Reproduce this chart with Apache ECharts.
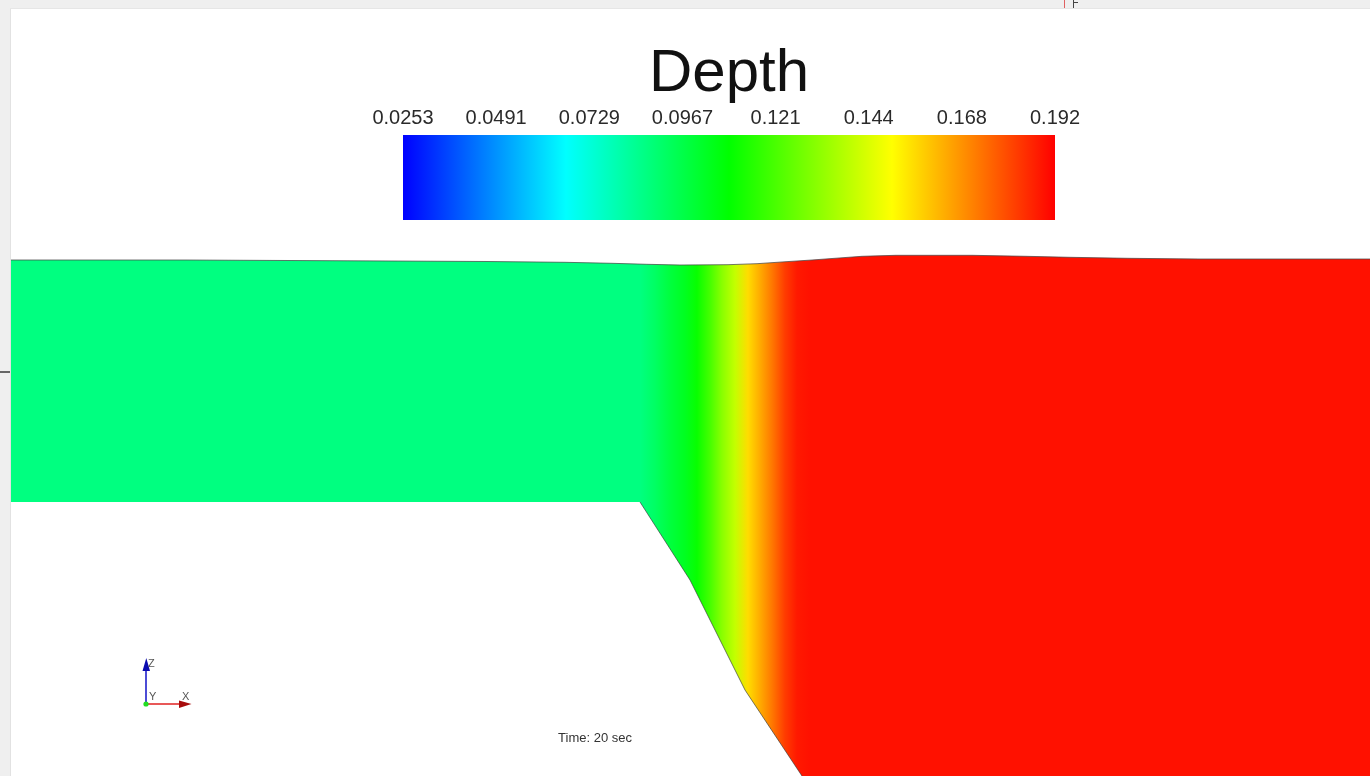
<!DOCTYPE html>
<html>
<head>
<meta charset="utf-8">
<title>Depth</title>
<script src="https://cdn.jsdelivr.net/npm/echarts@6/dist/echarts.min.js"></script>
<style>
  html, body { margin: 0; padding: 0; background: #ffffff; }
  #chart { width: 1370px; height: 776px; }
</style>
</head>
<body>
<div id="chart"></div>
<script>
// Colour legend: range, tick labels and rainbow ramp (blue → cyan → green → yellow → red)
const depthMin = 0.0253;
const depthMax = 0.192;
const depthTicks = ['0.0253', '0.0491', '0.0729', '0.0967', '0.121', '0.144', '0.168', '0.192'];
const rampColors = ['#0000ff', '#00ffff', '#00ff00', '#ffff00', '#ff0000'];

// Free surface elevation along the channel (x, z)
const surfaceX = [0.00, 1.76, 3.80, 4.77, 5.55, 6.02, 6.37, 6.70, 7.18, 7.47, 7.76, 8.02, 8.33, 8.52, 8.86, 9.62, 10.16, 10.60, 11.18, 11.90, 13.60];
const surfaceZ = [2.420, 2.420, 2.410, 2.405, 2.397, 2.387, 2.377, 2.370, 2.373, 2.383, 2.403, 2.420, 2.443, 2.457, 2.467, 2.467, 2.457, 2.447, 2.437, 2.430, 2.430];

// Channel bed: flat reach, then a drop
const bedX = [0.00, 6.30, 6.80, 7.35, 7.92, 8.50, 13.60];
const bedZ = [0.00, 0.00, -0.78, -1.88, -2.74, -3.60, -3.60];

// Flow depth sampled along the channel
const depthX = [0.00, 6.30, 6.45, 6.60, 6.75, 6.87, 7.00, 7.12, 7.25, 7.38, 7.50, 7.62, 7.75, 7.87, 8.00, 13.60];
const depthVal = [0.0878, 0.0878, 0.0925, 0.0985, 0.1035, 0.1100, 0.1200, 0.1310, 0.1405, 0.1560, 0.1640, 0.1724, 0.1822, 0.1879, 0.1892, 0.1892];

const FONT = '"Liberation Sans", Arial, sans-serif';

function hexToRgb(h) {
  return [parseInt(h.slice(1, 3), 16), parseInt(h.slice(3, 5), 16), parseInt(h.slice(5, 7), 16)];
}
const rampRgb = rampColors.map(hexToRgb);

// Map a depth value onto the rainbow ramp
function depthColor(d) {
  let t = (d - depthMin) / (depthMax - depthMin);
  t = Math.max(0, Math.min(1, t));
  const s = t * (rampRgb.length - 1);
  const i = Math.min(Math.floor(s), rampRgb.length - 2);
  const f = s - i;
  const a = rampRgb[i], b = rampRgb[i + 1];
  const c = a.map((v, k) => Math.round(v + (b[k] - v) * f));
  return 'rgb(' + c.join(',') + ')';
}

const chart = echarts.init(document.getElementById('chart'), null, { renderer: 'canvas' });

// Water body: polygon between surface and bed, coloured by depth along x
function renderDomain(params, api) {
  const pts = [];
  for (let i = 0; i < surfaceX.length; i++) pts.push(api.coord([surfaceX[i], surfaceZ[i]]));
  for (let i = bedX.length - 1; i >= 0; i--) pts.push(api.coord([bedX[i], bedZ[i]]));
  const x0 = api.coord([depthX[0], 0])[0];
  const x1 = api.coord([depthX[depthX.length - 1], 0])[0];
  const stops = depthX.map((x, i) => ({
    offset: (api.coord([x, 0])[0] - x0) / (x1 - x0),
    color: depthColor(depthVal[i])
  }));
  return {
    type: 'polygon',
    shape: { points: pts },
    style: {
      fill: { type: 'linear', x: x0, y: 0, x2: x1, y2: 0, colorStops: stops, global: true },
      stroke: null
    }
  };
}

// Colour bar spanning the first to the last tick
function renderColorBar(params, api) {
  const p0 = api.coord([0, 1]);
  const p1 = api.coord([depthTicks.length - 1, 0]);
  const stops = rampColors.map((c, i) => ({ offset: i / (rampColors.length - 1), color: c }));
  return {
    type: 'rect',
    shape: { x: p0[0], y: p0[1], width: p1[0] - p0[0], height: p1[1] - p0[1] },
    style: {
      fill: { type: 'linear', x: p0[0], y: 0, x2: p1[0], y2: 0, colorStops: stops, global: true }
    }
  };
}

const slopeBed = bedX.map((x, i) => [x, bedZ[i]]).filter(p => p[0] >= 6.30);

const option = {
  backgroundColor: '#ffffff',
  animation: false,
  grid: [
    { left: 10, right: 0, top: 8, bottom: 0 },
    { left: 403, width: 652, top: 135, height: 85 }
  ],
  xAxis: [
    { gridIndex: 0, type: 'value', min: 0, max: 13.6, show: false },
    {
      gridIndex: 1, type: 'category', data: depthTicks, boundaryGap: false, position: 'top',
      axisLine: { show: false }, axisTick: { show: false }, splitLine: { show: false },
      axisLabel: { interval: 0, showMinLabel: true, showMaxLabel: true, margin: 7, fontSize: 20, color: '#2a2a2a', fontFamily: FONT }
    }
  ],
  yAxis: [
    { gridIndex: 0, type: 'value', min: -2.74, max: 4.94, show: false },
    { gridIndex: 1, type: 'value', min: 0, max: 1, show: false }
  ],
  series: [
    {
      type: 'custom', xAxisIndex: 0, yAxisIndex: 0, data: [[0, 0]],
      renderItem: renderDomain, clip: true, z: 2, silent: true
    },
    {
      type: 'line', xAxisIndex: 0, yAxisIndex: 0,
      data: surfaceX.map((x, i) => [x, surfaceZ[i]]),
      symbol: 'none', lineStyle: { color: '#4a4a4a', width: 1, opacity: 0.75 }, z: 3, silent: true
    },
    {
      type: 'line', xAxisIndex: 0, yAxisIndex: 0, data: slopeBed,
      symbol: 'none', lineStyle: { color: '#333333', width: 0.8, opacity: 0.8 }, z: 3, silent: true
    },
    {
      type: 'custom', xAxisIndex: 1, yAxisIndex: 1, data: [[0, 0]],
      renderItem: renderColorBar, z: 2, silent: true
    }
  ],
  graphic: [
    // window frame
    { type: 'rect', shape: { x: 0, y: 0, width: 1370, height: 8 }, style: { fill: '#efefef' }, z: 100, silent: true },
    { type: 'rect', shape: { x: 0, y: 0, width: 10, height: 776 }, style: { fill: '#efefef' }, z: 100, silent: true },
    { type: 'line', shape: { x1: 10.5, y1: 8, x2: 10.5, y2: 776 }, style: { stroke: '#e2e2e2', lineWidth: 1 }, z: 101, silent: true },
    { type: 'line', shape: { x1: 10, y1: 8.5, x2: 1370, y2: 8.5 }, style: { stroke: '#e6e6e6', lineWidth: 1 }, z: 101, silent: true },
    { type: 'line', shape: { x1: 0, y1: 372, x2: 10, y2: 372 }, style: { stroke: '#666666', lineWidth: 2 }, z: 102, silent: true },
    { type: 'line', shape: { x1: 1064.5, y1: 0, x2: 1064.5, y2: 8 }, style: { stroke: '#e06060', lineWidth: 1 }, z: 102, silent: true },
    { type: 'line', shape: { x1: 1073.5, y1: 0, x2: 1073.5, y2: 8 }, style: { stroke: '#444444', lineWidth: 1 }, z: 102, silent: true },
    { type: 'line', shape: { x1: 1073, y1: 2.5, x2: 1078, y2: 2.5 }, style: { stroke: '#444444', lineWidth: 1 }, z: 102, silent: true },

    // legend title
    {
      type: 'text', x: 729, y: 74, z: 50, silent: true,
      style: { text: 'Depth', fontSize: 60, fontFamily: FONT, fill: '#111', align: 'center', verticalAlign: 'middle' }
    },

    // time annotation
    {
      type: 'text', x: 595, y: 738, z: 50, silent: true,
      style: { text: 'Time: 20 sec', fontSize: 13, fontFamily: FONT, fill: '#333', align: 'center', verticalAlign: 'middle' }
    },

    // orientation triad
    { type: 'line', shape: { x1: 146, y1: 704, x2: 146, y2: 669 }, style: { stroke: '#1010c8', lineWidth: 1.5 }, z: 50, silent: true },
    { type: 'polygon', shape: { points: [[142.5, 671], [150, 671], [146.3, 658]] }, style: { fill: '#0b0bb0' }, z: 51, silent: true },
    { type: 'line', shape: { x1: 146, y1: 704, x2: 181, y2: 704 }, style: { stroke: '#e02020', lineWidth: 1.5 }, z: 50, silent: true },
    { type: 'polygon', shape: { points: [[179, 700.5], [179, 708], [191.5, 704]] }, style: { fill: '#a80c0c' }, z: 51, silent: true },
    { type: 'circle', shape: { cx: 146, cy: 704, r: 2.6 }, style: { fill: '#22dd22' }, z: 52, silent: true },
    { type: 'text', x: 148, y: 664, z: 52, silent: true, style: { text: 'Z', fontSize: 11, fontFamily: FONT, fill: '#555', verticalAlign: 'middle' } },
    { type: 'text', x: 149, y: 697, z: 52, silent: true, style: { text: 'Y', fontSize: 11, fontFamily: FONT, fill: '#555', verticalAlign: 'middle' } },
    { type: 'text', x: 182, y: 697, z: 52, silent: true, style: { text: 'X', fontSize: 11, fontFamily: FONT, fill: '#555', verticalAlign: 'middle' } }
  ]
};

chart.setOption(option);
</script>
</body>
</html>
